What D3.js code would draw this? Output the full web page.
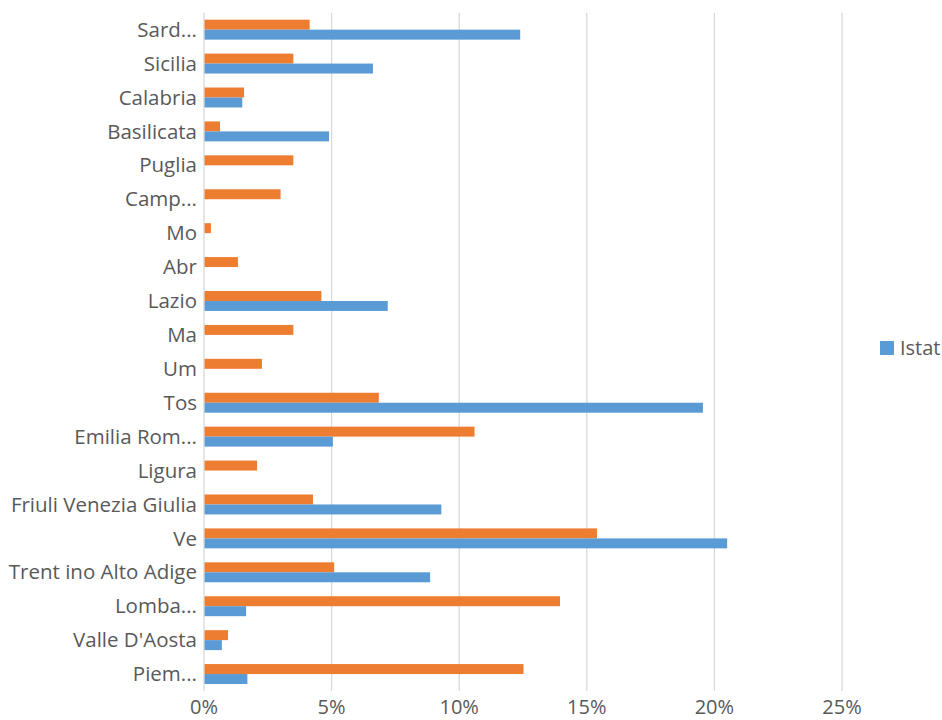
<!DOCTYPE html>
<html lang="it">
<head>
<meta charset="utf-8">
<title>Regioni</title>
<script src="https://d3js.org/d3.v7.min.js"></script>
<style>
  body { margin: 0; background: #fff; }
  text { font-family: "Open Sans", "Noto Sans", sans-serif; fill: #595959; }
</style>
</head>
<body>
<div id="chart"></div>
<script>
// categories, top to bottom as shown
var regions = ['Sard...', 'Sicilia', 'Calabria', 'Basilicata', 'Puglia', 'Camp...', 'Mo', 'Abr',
    'Lazio', 'Ma', 'Um', 'Tos', 'Emilia Rom...', 'Ligura', 'Friuli Venezia Giulia', 'Ve',
    'Trent ino Alto Adige', 'Lomba...', "Valle D'Aosta", 'Piem...'];

// unnamed series (orange), percent
var other = [4.14, 3.5, 1.57, 0.63, 3.5, 3.0, 0.27, 1.33,
    4.6, 3.5, 2.27, 6.85, 10.6, 2.08, 4.27, 15.4,
    5.1, 13.95, 0.94, 12.52];

// Istat series (blue), percent; null = no bar
var istat = [12.39, 6.62, 1.5, 4.9, null, null, null, null,
    7.2, null, null, 19.55, 5.05, null, 9.3, 20.5,
    8.86, 1.65, 0.7, 1.7];

var ticks = [0, 5, 10, 15, 20, 25];

var width = 942, height = 720;
var plotLeft = 204, plotRight = 842, plotTop = 12.7, plotBottom = 691;

var svg = d3.select('#chart').append('svg')
    .attr('width', width)
    .attr('height', height);

var x = d3.scaleLinear().domain([0, 25]).range([plotLeft, plotRight]);

var y = d3.scaleBand()
    .domain(regions)
    .range([plotTop, plotBottom])
    .paddingInner(14 / 34)
    .paddingOuter(7 / 34);

var sub = d3.scaleBand().domain(['other', 'istat']).range([0, y.bandwidth()]);

// gridlines
svg.append('g').selectAll('line')
    .data(ticks.slice(1))
    .enter().append('line')
    .attr('x1', d => x(d)).attr('x2', d => x(d))
    .attr('y1', plotTop).attr('y2', plotBottom)
    .attr('stroke', '#d9d9d9')
    .attr('stroke-width', 1.3);

// bars
var rows = regions.map((r, i) => ({ r: r, other: other[i], istat: istat[i] }));

svg.append('g').selectAll('rect')
    .data(rows)
    .enter().append('rect')
    .attr('x', x(0))
    .attr('y', d => y(d.r) + sub('other'))
    .attr('width', d => x(d.other) - x(0))
    .attr('height', sub.bandwidth())
    .attr('fill', '#ED7D31');

svg.append('g').selectAll('rect')
    .data(rows.filter(d => d.istat != null))
    .enter().append('rect')
    .attr('x', x(0))
    .attr('y', d => y(d.r) + sub('istat'))
    .attr('width', d => x(d.istat) - x(0))
    .attr('height', sub.bandwidth())
    .attr('fill', '#5B9BD5');

// vertical axis line
svg.append('line')
    .attr('x1', x(0)).attr('x2', x(0))
    .attr('y1', plotTop).attr('y2', plotBottom)
    .attr('stroke', '#d9d9d9')
    .attr('stroke-width', 1.3);

// category labels
svg.append('g').selectAll('text')
    .data(regions)
    .enter().append('text')
    .attr('x', plotLeft - 7)
    .attr('y', d => y(d) + y.bandwidth() / 2)
    .attr('dy', '0.35em')
    .attr('text-anchor', 'end')
    .style('font-size', '20.5px')
    .text(d => d);

// x tick labels
svg.append('g').selectAll('text')
    .data(ticks)
    .enter().append('text')
    .attr('x', d => x(d))
    .attr('y', 714)
    .attr('text-anchor', 'middle')
    .style('font-size', '20px')
    .text(d => d + '%');

// legend
var legend = svg.append('g').attr('transform', 'translate(880,341)');
legend.append('rect')
    .attr('width', 14).attr('height', 14)
    .attr('fill', '#5B9BD5');
legend.append('text')
    .attr('x', 20).attr('y', 7)
    .attr('dy', '0.35em')
    .style('font-size', '20px')
    .text('Istat');
</script>
</body>
</html>
